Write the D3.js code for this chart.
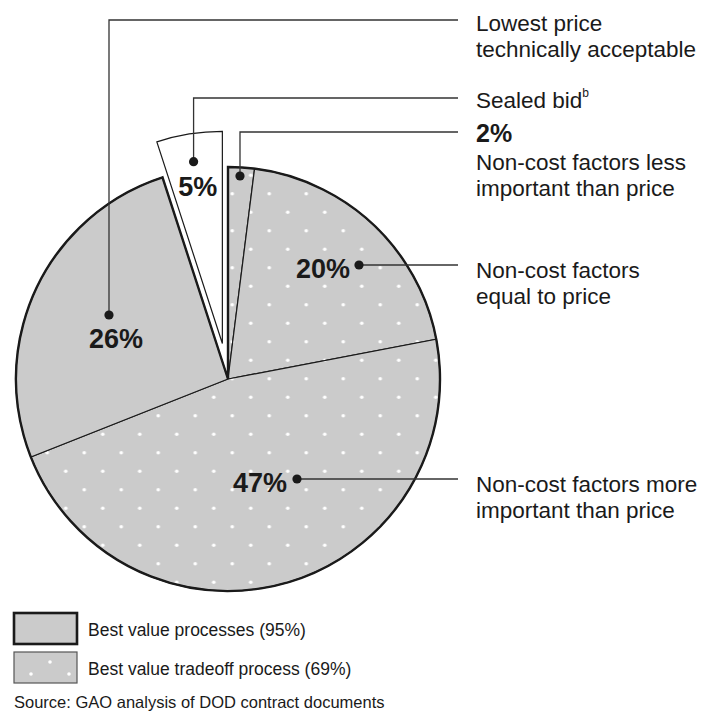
<!DOCTYPE html>
<html>
<head>
<meta charset="utf-8">
<script src="https://cdn.jsdelivr.net/npm/d3@7"></script>
<style>
  html, body { margin: 0; padding: 0; background: #ffffff; }
  svg { display: block; font-family: "Liberation Sans", Arial, Helvetica, sans-serif; }
</style>
</head>
<body>
<svg id="chart" width="705" height="717"></svg>
<script>
// ---- data ----
const categories = [
  "Non-cost factors less important than price",
  "Non-cost factors equal to price",
  "Non-cost factors more important than price",
  "Lowest price technically acceptable",
  "Sealed bid"
];
const values = [2, 20, 47, 26, 5];
const pctLabels = ["2%", "20%", "47%", "26%", "5%"];
const groups = ["tradeoff", "tradeoff", "tradeoff", "best", "other"];
const calloutLines = [
  ["Non-cost factors less", "important than price"],
  ["Non-cost factors", "equal to price"],
  ["Non-cost factors more", "important than price"],
  ["Lowest price", "technically acceptable"],
  ["Sealed bid"]
];
const legendLabels = ["Best value processes (95%)", "Best value tradeoff process (69%)"];
const sourceText = "Source: GAO analysis of DOD contract documents";

// ---- layout ----
const svg = d3.select("#chart");
const cx = 228, cy = 379, R = 212;
const GRAY = "#cbcbcb";
const INK = "#1a1a1a";

const defs = svg.append("defs");
const pat = defs.append("pattern")
  .attr("id", "dots").attr("patternUnits", "userSpaceOnUse")
  .attr("x", 13.5).attr("y", 9).attr("width", 37).attr("height", 37);
pat.append("rect").attr("width", 37).attr("height", 37).attr("fill", GRAY);
pat.append("circle").attr("cx", 9.25).attr("cy", 9.25).attr("r", 1.8).attr("fill", "#fff");
pat.append("circle").attr("cx", 27.75).attr("cy", 27.75).attr("r", 1.8).attr("fill", "#fff");

const pat2 = defs.append("pattern")
  .attr("id", "dotsLegend").attr("patternUnits", "userSpaceOnUse")
  .attr("x", 12).attr("y", 2).attr("width", 38).attr("height", 24);
pat2.append("rect").attr("width", 38).attr("height", 24).attr("fill", GRAY);
pat2.append("circle").attr("cx", 19).attr("cy", 0).attr("r", 1.8).attr("fill", "#fff");
pat2.append("circle").attr("cx", 0).attr("cy", 12).attr("r", 1.8).attr("fill", "#fff");
pat2.append("circle").attr("cx", 38).attr("cy", 12).attr("r", 1.8).attr("fill", "#fff");
pat2.append("circle").attr("cx", 19).attr("cy", 24).attr("r", 1.8).attr("fill", "#fff");

const pie = d3.pie().sort(null).value(d => d);
const arcs = pie(values);
const arc = d3.arc().innerRadius(0).outerRadius(R);

const g = svg.append("g").attr("transform", `translate(${cx},${cy})`);

// main slices (best value processes)
const bestArcs = arcs.filter((a, i) => groups[i] !== "other");
g.selectAll("path.slice")
  .data(bestArcs)
  .join("path")
  .attr("class", "slice")
  .attr("d", arc)
  .attr("fill", (d) => groups[d.index] === "tradeoff" ? "url(#dots)" : GRAY)
  .attr("stroke", INK)
  .attr("stroke-width", 1.2)
  .attr("stroke-linejoin", "miter");

// thick outline around the combined best-value group
const outline = d3.arc().innerRadius(0).outerRadius(R)({
  startAngle: d3.min(bestArcs, a => a.startAngle),
  endAngle: d3.max(bestArcs, a => a.endAngle)
});
g.append("path").attr("d", outline).attr("fill", "none")
  .attr("stroke", INK).attr("stroke-width", 2.4).attr("stroke-linejoin", "miter");

// exploded slice
const other = arcs.filter((a, i) => groups[i] === "other");
const explode = 36;
const mid = d => (d.startAngle + d.endAngle) / 2;
g.selectAll("path.exploded")
  .data(other)
  .join("path")
  .attr("class", "exploded")
  .attr("transform", d => `translate(${explode * Math.sin(mid(d))},${-explode * Math.cos(mid(d))})`)
  .attr("d", arc)
  .attr("fill", "#ffffff")
  .attr("stroke", INK)
  .attr("stroke-width", 1.2);

// exploded-slice label anchor (computed from its arc)
const ex = other[0];
const exTip = [cx + explode * Math.sin(mid(ex)), cy - explode * Math.cos(mid(ex))];
const polarEx = r => [exTip[0] + r * Math.sin(mid(ex)), exTip[1] - r * Math.cos(mid(ex))];
const exDot = polarEx(184);
const exTxt = polarEx(158);

// ---- callouts ----
const labelX = 476, lineEnd = 458;
const annot = [
  { dot: [240, 176], txt: null, lineY: 132, textY: [162, 188], headY: 133 },
  { dot: [359, 265], txt: [323, 269], lineY: 265, textY: [270, 296] },
  { dot: [297, 479], txt: [260, 483], lineY: 479, textY: [484, 510] },
  { dot: [109, 315], txt: [116, 339], lineY: 20, textY: [23, 49] },
  { dot: exDot, txt: exTxt, lineY: 98, textY: [100] }
];

const ann = svg.append("g");
annot.forEach((a, i) => {
  const [dx, dy] = a.dot;
  const path = Math.abs(a.lineY - dy) < 1
    ? `M${dx},${dy}H${lineEnd}`
    : `M${dx},${dy}V${a.lineY}H${lineEnd}`;
  ann.append("path").attr("d", path).attr("fill", "none")
    .attr("stroke", "#333").attr("stroke-width", 1.3);
  ann.append("circle").attr("cx", dx).attr("cy", dy).attr("r", 4.6).attr("fill", INK);
  if (a.txt) {
    ann.append("text").attr("x", a.txt[0]).attr("y", a.txt[1])
      .attr("text-anchor", "middle").attr("dominant-baseline", "central")
      .attr("font-weight", "bold").attr("font-size", 27).attr("fill", INK)
      .text(pctLabels[i]);
  }
  if (a.headY !== undefined) {
    ann.append("text").attr("x", labelX).attr("y", a.headY)
      .attr("dominant-baseline", "central")
      .attr("font-weight", "bold").attr("font-size", 25).attr("fill", INK)
      .text(pctLabels[i]);
  }
  calloutLines[i].forEach((line, k) => {
    const t = ann.append("text").attr("x", labelX).attr("y", a.textY[k])
      .attr("dominant-baseline", "central")
      .attr("font-size", 22.5).attr("fill", INK);
    t.append("tspan").text(line);
    if (groups[i] === "other") {
      t.append("tspan").attr("font-size", 12).attr("dy", -7).text("b");
    }
  });
});

// ---- legend ----
const leg = svg.append("g");
const legendFills = [GRAY, "url(#dotsLegend)"];
const legendStroke = [2.6, 1.2];
const legendStrokeCol = [INK, "#555"];
const legendY = [613, 652];
legendLabels.forEach((lab, i) => {
  leg.append("rect").attr("x", 14).attr("y", legendY[i]).attr("width", 63).attr("height", 31)
    .attr("fill", legendFills[i]).attr("stroke", legendStrokeCol[i]).attr("stroke-width", legendStroke[i]);
  leg.append("text").attr("x", 88).attr("y", legendY[i] + 17)
    .attr("dominant-baseline", "central").attr("font-size", 17.5).attr("fill", INK)
    .text(lab);
});
svg.append("text").attr("x", 14).attr("y", 702)
  .attr("dominant-baseline", "central").attr("font-size", 16.5).attr("fill", INK)
  .text(sourceText);
</script>
</body>
</html>
